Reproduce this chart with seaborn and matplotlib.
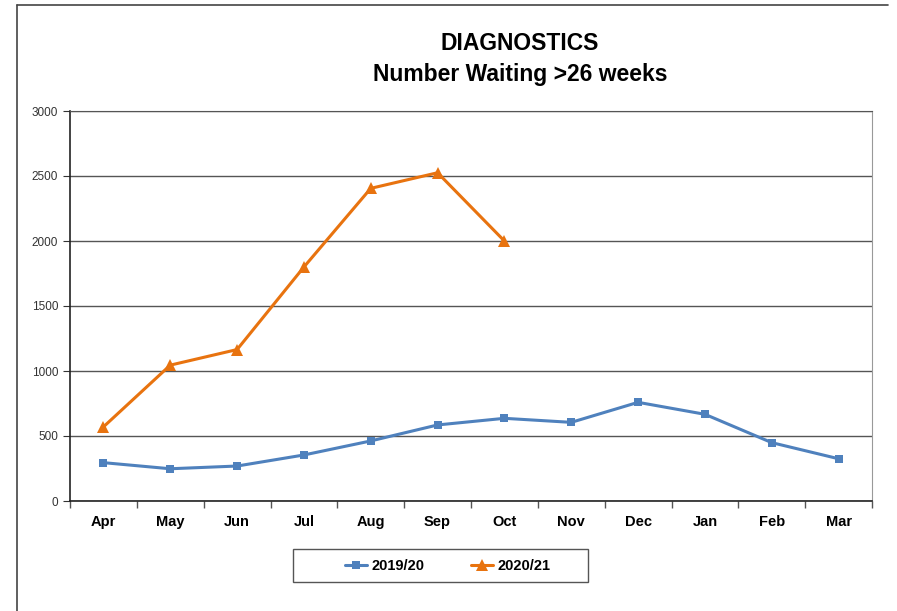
import numpy as np
import pandas as pd
import matplotlib.pyplot as plt
import seaborn as sns
from matplotlib.patches import Rectangle
from matplotlib.lines import Line2D

months = ['Apr', 'May', 'Jun', 'Jul', 'Aug', 'Sep', 'Oct', 'Nov', 'Dec', 'Jan', 'Feb', 'Mar']
wait_1920 = [295, 248, 269, 354, 462, 585, 636, 605, 759, 667, 449, 325]
months_2021 = ['Apr', 'May', 'Jun', 'Jul', 'Aug', 'Sep', 'Oct']
wait_2021 = [570, 1045, 1165, 1800, 2405, 2525, 2000]

df1 = pd.DataFrame({'Month': months, 'Waiting': wait_1920})
df2 = pd.DataFrame({'Month': months_2021, 'Waiting': wait_2021})

sns.set_style('white')
plt.rcParams['font.family'] = ['Liberation Sans', 'DejaVu Sans']
plt.rcParams['text.color'] = 'black'

blue = '#4F81BD'
orange = '#E8730F'

fig = plt.figure(figsize=(8.97, 6.11), dpi=100)
ax = fig.add_axes([70 / 897, 110 / 611, 802 / 897, 390 / 611])

sns.lineplot(data=df1, x='Month', y='Waiting', ax=ax, color=blue, marker='s',
             markersize=6, markeredgewidth=0, linewidth=2.2, label='2019/20', sort=False)
sns.lineplot(data=df2, x='Month', y='Waiting', ax=ax, color=orange, marker='^',
             markersize=8, markeredgewidth=0, linewidth=2.2, label='2020/21', sort=False)

ax.set_xlim(-0.5, 11.5)
ax.set_ylim(0, 3000)
ax.set_yticks(np.arange(0, 3001, 500))
ax.yaxis.grid(True, color='#555555', linewidth=1)
ax.set_axisbelow(True)
ax.set_xlabel('')
ax.set_ylabel('')

ax.set_xticks(range(len(months)))
ax.set_xticklabels(months, fontweight='bold', fontsize=10.5, color='black')
ax.set_xticks(np.arange(-0.5, 12, 1), minor=True)
ax.tick_params(axis='x', which='major', length=0, pad=10)
ax.tick_params(axis='x', which='minor', length=5, direction='out', color='#555555', width=1, bottom=True)
ax.tick_params(axis='y', length=5, direction='out', color='#333333', labelsize=8.5,
               labelcolor='#333333', left=True)

for side in ['left', 'bottom']:
    ax.spines[side].set_color('#222222')
    ax.spines[side].set_linewidth(1.2)
ax.spines['right'].set_color('#999999')
ax.spines['top'].set_color('#555555')

fig.text(520 / 897, 1 - 43 / 611, 'DIAGNOSTICS', ha='center', va='center',
         fontsize=16.5, fontweight='bold', color='black')
fig.text(520 / 897, 1 - 75 / 611, 'Number Waiting >26 weeks', ha='center', va='center',
         fontsize=16.5, fontweight='bold', color='black')

ax.get_legend().remove()
handles, labels = ax.get_legend_handles_labels()
fig.legend(handles, labels, loc='center', bbox_to_anchor=(448 / 897, 1 - 566 / 611),
           ncol=2, frameon=False, prop={'weight': 'bold', 'size': 10.5},
           handlelength=1.5, columnspacing=3.2, handletextpad=0.3, labelcolor='black')
fig.patches.append(Rectangle((293 / 897, 1 - 582 / 611), 295 / 897, 33 / 611,
                             transform=fig.transFigure, fill=False,
                             edgecolor='#555555', linewidth=1))

# outer chart border (top and left edges visible)
fig.lines.append(Line2D([17 / 897, 17 / 897], [0, 1 - 5 / 611], transform=fig.transFigure,
                        color='#444444', linewidth=1.2))
fig.lines.append(Line2D([17 / 897, 888 / 897], [1 - 5 / 611, 1 - 5 / 611], transform=fig.transFigure,
                        color='#444444', linewidth=1.2))

fig.savefig('out.png', dpi=100)
